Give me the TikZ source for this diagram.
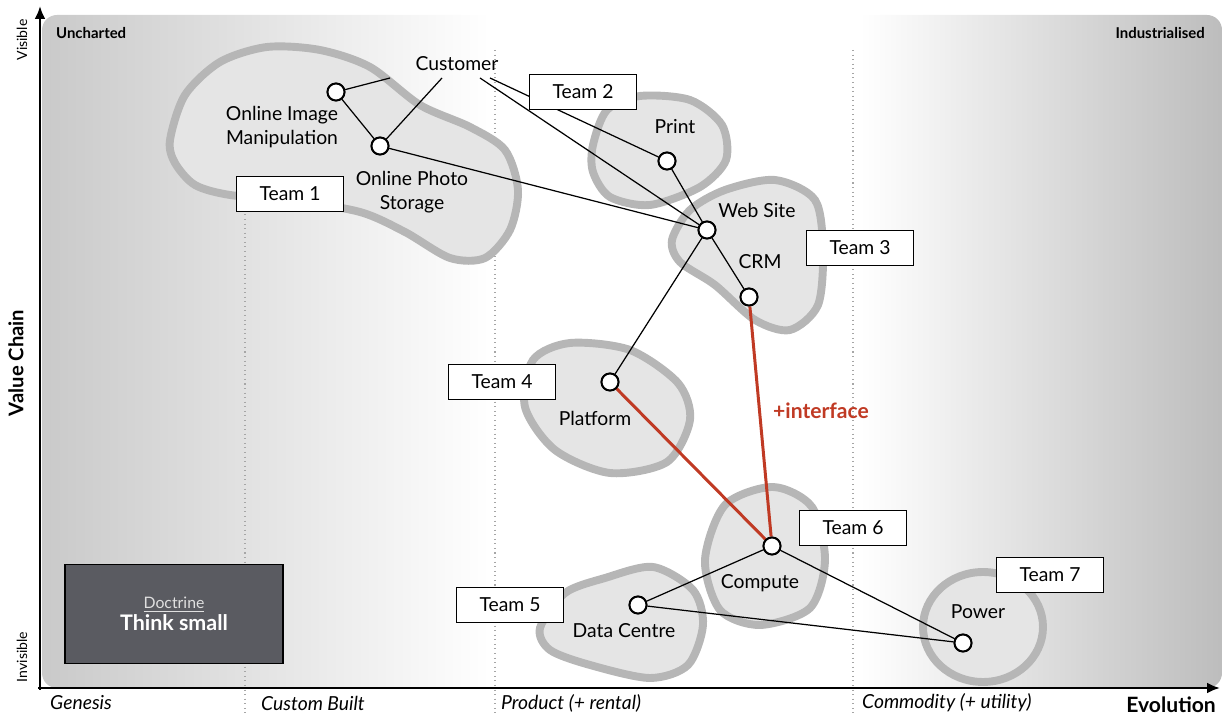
\documentclass[tikz,border=0pt]{standalone}
\usepackage{fontspec}
\setmainfont{Lato}
\usetikzlibrary{arrows.meta,positioning,calc}
\definecolor{blobline}{RGB}{182,182,182}
\definecolor{blobfill}{RGB}{229,229,229}
\definecolor{ifcred}{RGB}{192,58,36}
\definecolor{docgray}{RGB}{90,91,97}
\tikzset{
  comp/.style={circle,draw,fill=white,line width=1.1pt,minimum size=0.34cm,inner sep=0pt},
  team/.style={draw,fill=white,line width=0.6pt,minimum width=2.14cm,minimum height=0.7cm},
  blob/.style={draw=blobline,fill=blobfill,line width=4.5pt},
  lnk/.style={line width=0.7pt},
  ifc/.style={draw=ifcred,line width=1.7pt},
  evo/.style={dotted,black!35,line width=0.6pt},
  ax/.style={-{Latex[length=2.6mm,width=2.2mm]},line width=1.6pt},
  lbl/.style={align=center},
  stage/.style={anchor=west,font=\itshape\fontsize{11}{13}\selectfont},
}

\begin{document}
\begin{tikzpicture}[x=0.02cm,y=-0.02cm,font=\fontsize{11}{13.6}\selectfont]
  \useasboundingbox (0,0) rectangle (1225,715);
  % background of the map
  \begin{scope}
    \clip[rounded corners=0.3cm] (42,15) rectangle (1222,688);
    \shade[left color=black!21,right color=white] (42,15) rectangle (490,688);
    \shade[left color=white,right color=black!26] (860,15) rectangle (1222,688);
  \end{scope}
  \foreach \x in {245,495,853} \draw[evo] (\x,50) -- (\x,715);
  % team blobs
  \draw[blob] plot[smooth cycle] coordinates {(170,140) (185,95) (220,62) (267,47) (320,50) (370,67)
    (420,105) (470,127) (505,150) (518,190) (510,230) (485,258) (450,258) (405,232) (360,212)
    (290,200) (230,195) (195,185) (175,163)};
  \draw[blob] plot[smooth cycle] coordinates {(593,145) (607,110) (640,96) (690,100) (722,125)
    (726,160) (700,187) (650,205) (610,197) (593,172)};
  \draw[blob] plot[smooth cycle] coordinates {(672,240) (690,210) (725,190) (775,180) (815,200)
    (823,250) (818,305) (790,330) (755,320) (715,285) (680,262)};
  \draw[blob] plot[smooth cycle] coordinates {(525,407) (533,360) (570,343) (630,350) (678,383)
    (690,420) (667,462) (610,473) (555,450)};
  \draw[blob] plot[smooth cycle] coordinates {(705,560) (725,505) (773,487) (812,507) (825,560)
    (810,608) (760,625) (720,610)};
  \draw[blob] plot[smooth cycle] coordinates {(540,628) (565,593) (605,578) (653,567) (693,590)
    (703,625) (688,665) (650,678) (590,665) (550,650)};
  \draw[blob] (983,627) ellipse [x radius=1.2cm,y radius=1.1cm];
  % components
  \node[lbl] (cust) at (457,64) {Customer};
  \coordinate (c1) at (390,78); \coordinate (c2) at (442,78);
  \coordinate (c3) at (480,78); \coordinate (c4) at (490,78);
  \node[comp] (oim) at (336,92) {};
  \node[comp] (ops) at (380,146) {};
  \node[comp] (print) at (667,161) {};
  \node[comp] (web) at (707,230) {};
  \node[comp] (crm) at (749,297) {};
  \node[comp] (plat) at (610,382) {};
  \node[comp] (comp) at (772,546) {};
  \node[comp] (dc) at (638,605) {};
  \node[comp] (pow) at (963,643) {};
  \draw[lnk] (c1) -- (oim); \draw[lnk] (c2) -- (ops);
  \draw[lnk] (c3) -- (web); \draw[lnk] (c4) -- (print);
  \draw[lnk] (oim) -- (ops); \draw[lnk] (ops) -- (web);
  \draw[lnk] (print) -- (web); \draw[lnk] (web) -- (crm);
  \draw[lnk] (web) -- (plat);
  \draw[lnk] (comp) -- (dc); \draw[lnk] (comp) -- (pow); \draw[lnk] (dc) -- (pow);
  \draw[ifc] (crm) -- (comp); \draw[ifc] (plat) -- (comp);
  \node[comp] at (oim) {}; \node[comp] at (ops) {}; \node[comp] at (print) {};
  \node[comp] at (web) {}; \node[comp] at (crm) {}; \node[comp] at (plat) {};
  \node[comp] at (comp) {}; \node[comp] at (dc) {}; \node[comp] at (pow) {};
  \node[lbl] (oiml) at (282,127) {Online Image\\Manipulation};
  \node[lbl] (opsl) at (412,192) {Online Photo\\Storage};
  \node[lbl] (printl) at (675,127) {Print};
  \node[lbl] (webl) at (757,210) {Web Site};
  \node[lbl] (crml) at (760,262) {CRM};
  \node[lbl] (platl) at (595,418) {Platform};
  \node[lbl] (compl) at (760,583) {Compute};
  \node[lbl] (dcl) at (624,631) {Data Centre};
  \node[lbl] (powl) at (978,612) {Power};
  \node[text=ifcred,font=\bfseries\fontsize{12}{14}\selectfont] (ifcl) at (821,411) {+interface};
  % teams
  \node[team] (t1) at (290,194) {Team 1};
  \node[team] (t2) at (583,92) {Team 2};
  \node[team] (t3) at (860,248) {Team 3};
  \node[team] (t4) at (502,382) {Team 4};
  \node[team] (t5) at (510,605) {Team 5};
  \node[team] (t6) at (853,528) {Team 6};
  \node[team] (t7) at (1050,575) {Team 7};
  % doctrine
  \node[draw,fill=docgray,line width=0.6pt,minimum width=4.36cm,minimum height=1.98cm,
    align=center,text=white] (doc) at (174,614)
    {{\color{black!12}\fontsize{9}{11}\selectfont\underline{Doctrine}}\\[-1pt]
     {\bfseries\fontsize{12.2}{14}\selectfont Think small}};
  % axes
  \draw[ax] (40,690) -- (40,6);
  \draw[ax] (38,688) -- (1220,688);
  \node[rotate=90,font=\fontsize{8}{9}\selectfont] (vis) at (22,40) {Visible};
  \node[rotate=90,font=\fontsize{8}{9}\selectfont] (invis) at (22,657) {Invisible};
  \node[rotate=90,font=\bfseries\fontsize{11.5}{13}\selectfont] (vc) at (16,363) {Value Chain};
  \node[anchor=west,font=\bfseries\fontsize{8.5}{10}\selectfont] (unch) at (50,33) {Uncharted};
  \node[anchor=east,font=\bfseries\fontsize{8.5}{10}\selectfont] (ind) at (1211,33) {Industrialised};
  \node[stage] (gen) at (44,703) {Genesis};
  \node[stage] (cb) at (255,703) {Custom Built};
  \node[stage] (prod) at (495,703) {Product (+ rental)};
  \node[stage] (cmd) at (856,703) {Commodity (+ utility)};
  \node[anchor=east,font=\bfseries\fontsize{12}{14}\selectfont] (evol) at (1222,705) {Evolution};
\end{tikzpicture}
\end{document}
